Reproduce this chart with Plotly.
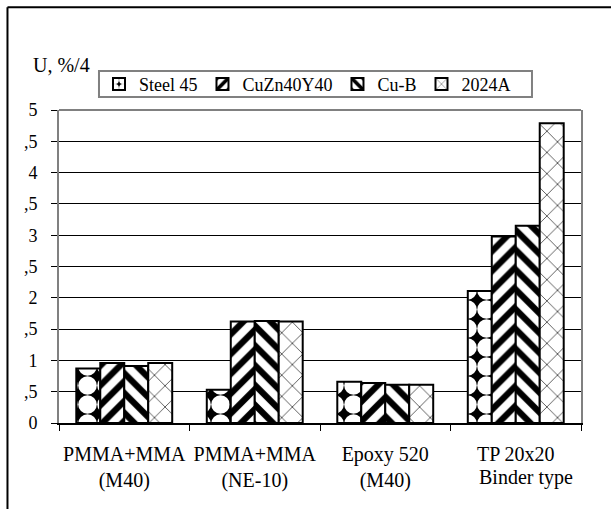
import plotly.graph_objects as go

# Binder types along the x axis (two-line labels)
categories = ["PMMA+MMA<br>(M40)", "PMMA+MMA<br>(NE-10)", "Epoxy 520<br>(M40)", "TP 20x20"]

# Wear U, %/4 for each counterbody material
steel_45 = [0.87, 0.53, 0.66, 2.11]
cuzn40y40 = [0.96, 1.62, 0.64, 2.98]
cu_b = [0.91, 1.63, 0.61, 3.15]
al_2024a = [0.96, 1.62, 0.61, 4.79]

y_tick_vals = [0, 0.5, 1, 1.5, 2, 2.5, 3, 3.5, 4, 4.5, 5]
y_tick_text = ["0", ",5", "1", ",5", "2", ",5", "3", ",5", "4", ",5", "5"]

FONT = "Liberation Serif, Times New Roman, serif"

series = [
    ("Steel 45", steel_45, dict(shape=".", fillmode="replace", bgcolor="black", fgcolor="white", size=19, solidity=0.75)),
    ("CuZn40Y40", cuzn40y40, dict(shape="/", fillmode="replace", bgcolor="white", fgcolor="black", size=14, solidity=0.45)),
    ("Cu-B", cu_b, dict(shape="\\", fillmode="replace", bgcolor="white", fgcolor="black", size=14, solidity=0.45)),
    ("2024A", al_2024a, dict(shape="x", fillmode="replace", bgcolor="white", fgcolor="#555555", size=15, solidity=0.12)),
]

fig = go.Figure()
for name, vals, pattern in series:
    fig.add_trace(go.Bar(
        x=categories, y=vals, name=name,
        marker=dict(color="white", line=dict(color="black", width=2), pattern=pattern),
    ))

fig.update_layout(
    width=611, height=509,
    margin=dict(l=59, r=30, t=110, b=86),
    paper_bgcolor="white", plot_bgcolor="white",
    font=dict(family=FONT, size=20, color="black"),
    barmode="group", bargap=0.265, bargroupgap=0,
    showlegend=True,
    legend=dict(
        orientation="h", x=0.0766, y=1.141, xanchor="left", yanchor="top",
        borderwidth=0, bgcolor="rgba(0,0,0,0)",
        font=dict(family=FONT, size=18), itemwidth=30,
    ),
    xaxis=dict(
        showline=True, linecolor="black", linewidth=1.5,
        ticks="outside", tickson="boundaries", ticklen=6, tickcolor="black",
        showgrid=False, tickfont=dict(family=FONT, size=20),
        tickangle=0, automargin=False, ticklabelstandoff=12,
    ),
    yaxis=dict(
        range=[0, 5], tickvals=y_tick_vals, ticktext=y_tick_text,
        showline=True, linecolor="#808080", linewidth=2, mirror=True,
        ticks="outside", ticklen=6, tickcolor="black",
        showgrid=True, gridcolor="black", gridwidth=1, zeroline=False,
        tickfont=dict(family=FONT, size=18), ticklabelstandoff=10,
        automargin=False,
    ),
    annotations=[
        dict(text="U, %/4", xref="paper", yref="paper", x=0.005, y=1.144,
             xanchor="center", yanchor="middle",
             showarrow=False, font=dict(family=FONT, size=20)),
        dict(text="Binder type", xref="paper", yref="paper", x=0.8946, y=-0.1744,
             xanchor="center", yanchor="middle",
             showarrow=False, font=dict(family=FONT, size=20)),
    ],
    shapes=[
        # gray top edge of the plot frame
        dict(type="line", xref="paper", yref="paper", x0=0, x1=1, y0=1, y1=1,
             line=dict(color="#808080", width=2), layer="above"),
        # legend box
        dict(type="rect", xref="paper", yref="paper", x0=0.0766, x1=0.9061, y0=1.0416, y1=1.1248,
             line=dict(color="#808080", width=2), fillcolor="white", layer="above"),
        # outer chart border (left and top)
        dict(type="line", xref="paper", yref="paper", x0=-0.0987, x1=-0.0987, y0=-0.32, y1=1.328,
             line=dict(color="black", width=2)),
        dict(type="line", xref="paper", yref="paper", x0=-0.0987, x1=1.08, y0=1.328, y1=1.328,
             line=dict(color="black", width=2)),
    ],
)

fig.write_html("out.html")
